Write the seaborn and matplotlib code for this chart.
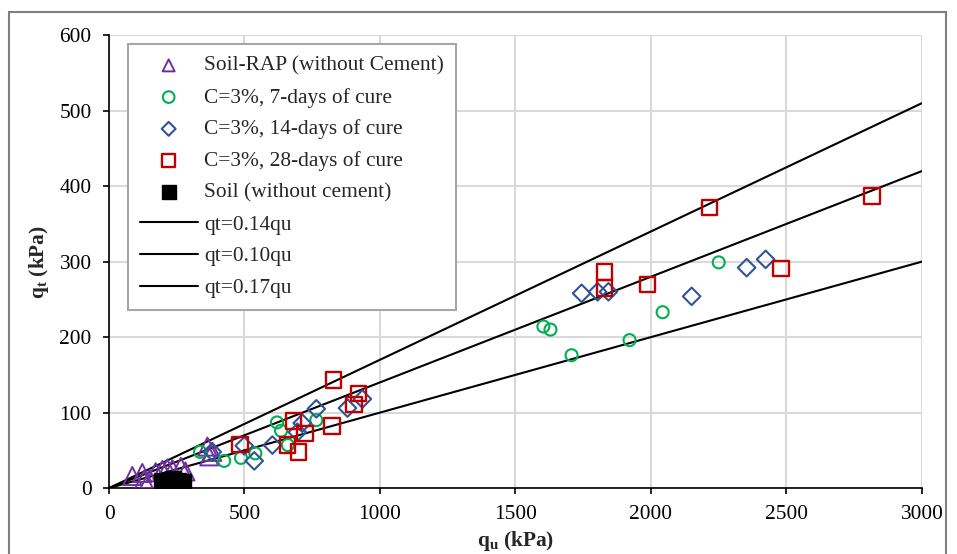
import numpy as np
import pandas as pd
import seaborn as sns
import matplotlib.pyplot as plt
from matplotlib.patches import Rectangle

# Soil-RAP (without cement)
rap_qu = [86, 123, 129, 150, 172, 197, 215, 234, 265, 282, 363, 381, 370]
rap_qt = [16, 20, 11, 12, 21, 24, 26, 25, 28, 22, 55, 48, 42]
# C=3%, 7 days
c7_qu = [336, 425, 487, 540, 620, 635, 660, 765, 1603, 1629, 1707, 1921, 2043, 2250]
c7_qt = [48, 36, 40, 46, 87, 76, 57, 90, 214, 210, 176, 196, 233, 299]
# C=3%, 14 days
c14_qu = [381, 499, 536, 603, 695, 713, 765, 880, 935,
          1744, 1803, 1843, 2150, 2353, 2423]
c14_qt = [48, 56, 36, 57, 74, 86, 105, 106, 118,
          258, 260, 260, 254, 292, 303]
# C=3%, 28 days
c28_qu = [484, 658, 680, 699, 724, 823, 828, 905, 920,
          1829, 1829, 1987, 2216, 2479, 2815]
c28_qt = [58, 57, 89, 48, 72, 82, 143, 111, 125,
          286, 265, 270, 372, 291, 387]
# Soil (without cement)
soil_qu = [195, 215, 235, 255, 272]
soil_qt = [10, 8, 12, 9, 8]

line_labels = ["qt=0.14qu", "qt=0.10qu", "qt=0.17qu"]
line_slopes = [0.17, 0.14, 0.10]
line_qu = np.array([0, 3000])

sns.set_style("white")
plt.rcParams['font.family'] = ['Liberation Serif', 'DejaVu Serif']
plt.rcParams['mathtext.fontset'] = 'custom'
plt.rcParams['mathtext.rm'] = 'Liberation Serif'
plt.rcParams['mathtext.bf'] = 'Liberation Serif:bold'

fig = plt.figure(figsize=(9.57, 5.54), dpi=100)
ax = fig.add_axes([0.1139, 0.119, 0.8495, 0.8175])

fs = 15.4
sns.scatterplot(x=rap_qu, y=rap_qt, marker="^", s=170, facecolor="none",
                edgecolor="#7030A0", linewidth=1.4, ax=ax,
                label="Soil-RAP (without Cement)", zorder=3)
sns.scatterplot(x=c7_qu, y=c7_qt, marker="o", s=75, facecolor="none",
                edgecolor="#00B050", linewidth=1.5, ax=ax,
                label="C=3%, 7-days of cure", zorder=3)
sns.scatterplot(x=c14_qu, y=c14_qt, marker="D", s=80, facecolor="none",
                edgecolor="#2F5597", linewidth=1.5, ax=ax,
                label="C=3%, 14-days of cure", zorder=3)
sns.scatterplot(x=c28_qu, y=c28_qt, marker="s", s=125, facecolor="none",
                edgecolor="#C00000", linewidth=1.7, ax=ax,
                label="C=3%, 28-days of cure", zorder=3)
sns.scatterplot(x=soil_qu, y=soil_qt, marker="s", s=120, color="black",
                edgecolor="black", linewidth=1, ax=ax,
                label="Soil (without cement)", zorder=3)
for lab, k in zip(line_labels, line_slopes):
    sns.lineplot(x=line_qu, y=k * line_qu, color="black", linewidth=1.5,
                 ax=ax, label=lab, zorder=2)

ax.set_xlim(0, 3000)
ax.set_ylim(0, 600)
ax.set_xticks(range(0, 3001, 500))
ax.set_yticks(range(0, 601, 100))
ax.grid(True, color="#d9d9d9", linewidth=1.5)
ax.set_axisbelow(True)
for side in ["top", "right"]:
    ax.spines[side].set_visible(False)
for side in ["left", "bottom"]:
    ax.spines[side].set_color("black")
    ax.spines[side].set_linewidth(1.2)
ax.tick_params(axis="both", direction="out", length=4.5, width=1.2,
               labelsize=fs, colors="black", bottom=True, left=True, pad=8)
ax.set_xlabel(r"$\mathbf{q_u}$ (kPa)", fontsize=fs, fontweight="bold", labelpad=3)
ax.set_ylabel(r"$\mathbf{q_t}$ (kPa)", fontsize=fs, fontweight="bold", labelpad=6)

leg = ax.legend(loc="upper left", bbox_to_anchor=(0.0234, 0.98),
                borderaxespad=0, fontsize=fs, frameon=True, fancybox=False,
                edgecolor="#a6a6a6", framealpha=1, handlelength=2.7,
                handletextpad=0.3, labelspacing=0.55, borderpad=0.55)
leg.get_frame().set_linewidth(1.5)
legend_sizes = [75, 70, 50, 80, 90]
for h, sz in zip(leg.legend_handles[:5], legend_sizes):
    h.set_sizes([sz])

fig.patches.append(Rectangle((9 / 957, -0.05), 937 / 957, 1.05 - 12 / 554,
                             transform=fig.transFigure, fill=False,
                             edgecolor="#7f7f7f", linewidth=1.5))

fig.savefig("out.png", dpi=100)
